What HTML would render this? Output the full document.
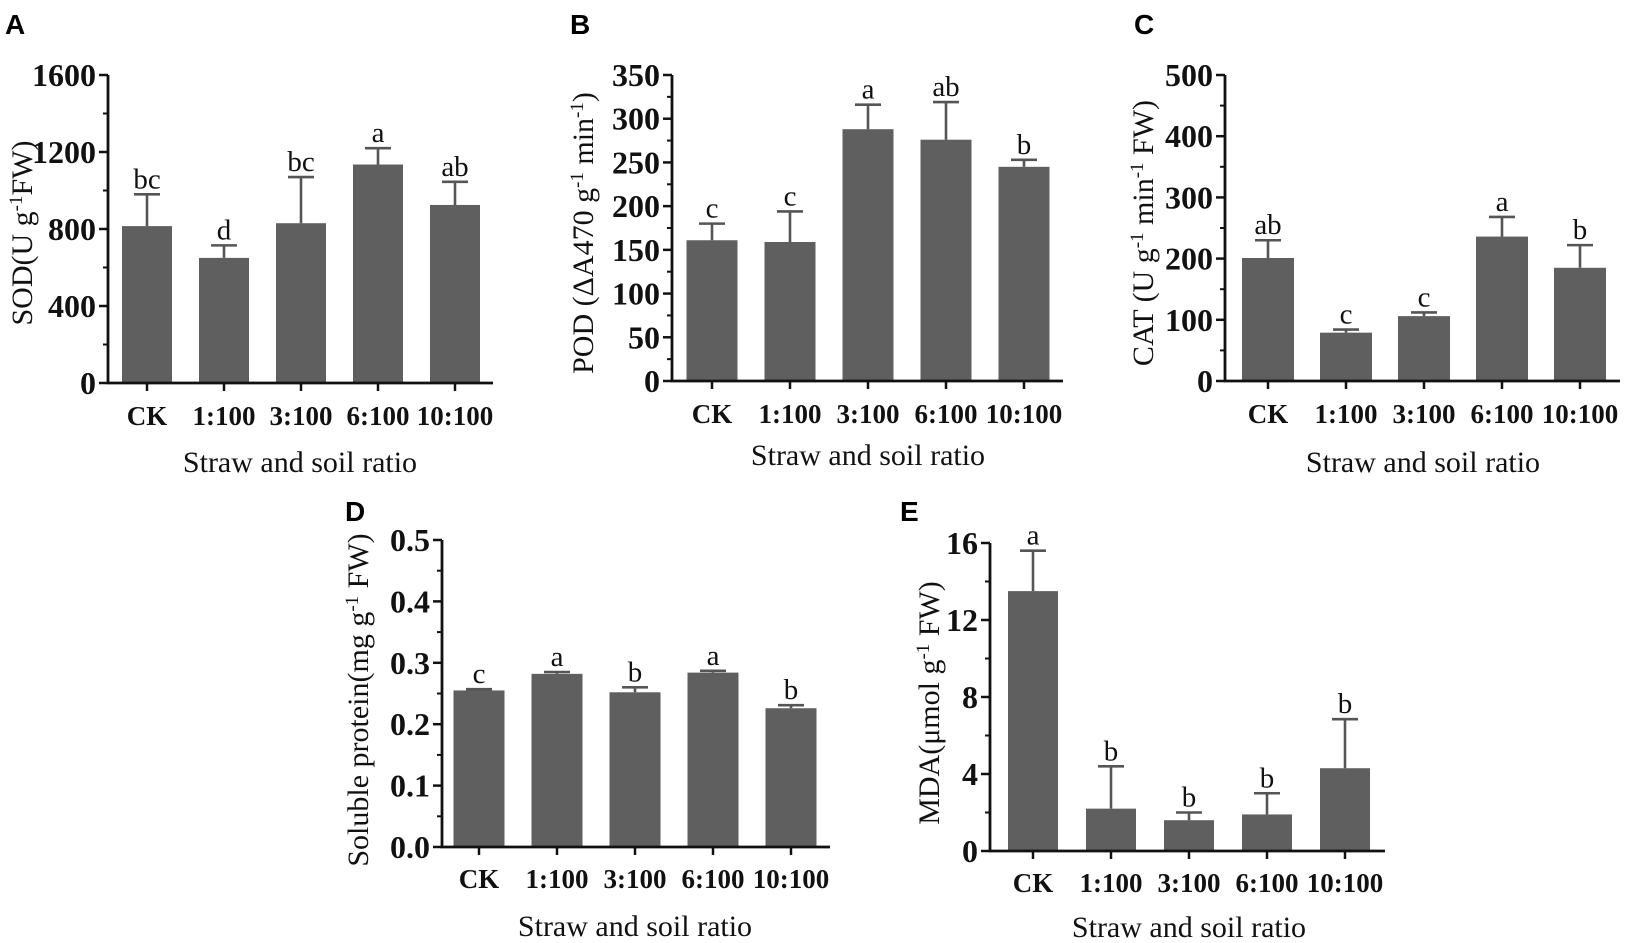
<!DOCTYPE html>
<html><head><meta charset="utf-8"><style>
html,body{margin:0;padding:0;background:#fff;}
svg{display:block;}
.tick{font-family:"Liberation Serif",serif;font-weight:bold;font-size:32px;fill:#111;}
.cat{font-family:"Liberation Serif",serif;font-weight:bold;font-size:27px;fill:#111;}
.xt{font-family:"Liberation Serif",serif;font-size:30px;fill:#111;}
.yt{font-family:"Liberation Serif",serif;font-size:30px;fill:#111;}
.sig{font-family:"Liberation Serif",serif;font-size:29px;fill:#111;}
.pl{font-family:"Liberation Sans",sans-serif;font-weight:bold;font-size:28px;fill:#000;}
</style></head><body>
<svg id="fig" width="1650" height="943" viewBox="0 0 1650 943">
<text class="pl" x="5" y="34">A</text>
<text class="pl" x="570" y="34">B</text>
<text class="pl" x="1134" y="34">C</text>
<text class="pl" x="345" y="521">D</text>
<text class="pl" x="900" y="521">E</text>
</svg>
<script>
const categories = ["CK","1:100","3:100","6:100","10:100"];
const sodMeans = [815,650,830,1135,925];
const sodUpper = [980,715,1070,1220,1045];
const sodLetters = ["bc","d","bc","a","ab"];
const sodTicks = [0,400,800,1200,1600];
const podMeans = [161,159,288,276,245];
const podUpper = [180,194,316,319,253];
const podLetters = ["c","c","a","ab","b"];
const podTicks = [0,50,100,150,200,250,300,350];
const catMeans = [201,79,106,236,185];
const catUpper = [230,84,112,268,222];
const catLetters = ["ab","c","c","a","b"];
const catTicks = [0,100,200,300,400,500];
const protMeans = [0.255,0.282,0.252,0.284,0.226];
const protUpper = [0.257,0.285,0.260,0.287,0.231];
const protLetters = ["c","a","b","a","b"];
const protTicks = ["0.0","0.1","0.2","0.3","0.4","0.5"];
const mdaMeans = [13.5,2.2,1.6,1.9,4.3];
const mdaUpper = [15.6,4.4,2.0,3.0,6.85];
const mdaLetters = ["a","b","b","b","b"];
const mdaTicks = [0,4,8,12,16];

const NS="http://www.w3.org/2000/svg";
const svg=document.getElementById('fig');
function mk(tag,attrs,parent){const e=document.createElementNS(NS,tag);for(const k in attrs)e.setAttribute(k,attrs[k]);(parent||svg).appendChild(e);return e;}

function panel(id,cfg,means,upper,letters,ticks,yTitleParts){
  const g=mk('g',{});
  
  
  const tv=ticks.map(Number);
  const ymax=tv[tv.length-1];
  const y=v=>cfg.y0-(v/ymax)*(cfg.y0-cfg.yTop);
  const x=i=>cfg.x0+cfg.first+i*cfg.step;
  means.forEach((m,i)=>{
    const b=mk('rect',{x:x(i)-cfg.bw/2,y:y(m),width:cfg.bw,height:cfg.y0-y(m),fill:'#5f5f5f'},g);
    
    
    const e=mk('path',{d:`M${x(i)},${y(m)}V${y(upper[i])}M${x(i)-13},${y(upper[i])}H${x(i)+13}`,stroke:'#555',"stroke-width":2.6,fill:'none'},g);
    
    
    const t=mk('text',{x:x(i),y:y(upper[i])-6,"text-anchor":"middle",class:"sig"},g);
    t.textContent=letters[i];
    
    
    mk('line',{x1:x(i),x2:x(i),y1:cfg.y0,y2:cfg.y0+8,stroke:'#111',"stroke-width":2.5},g);
    const c=mk('text',{x:x(i),y:cfg.catY,"text-anchor":"middle",class:"cat"},g);
    c.textContent=categories[i];
    
    
  });
  const ax=mk('path',{d:`M${cfg.x0},${cfg.yTop}V${cfg.y0}H${cfg.xEnd}`,stroke:'#111',"stroke-width":2.8,fill:'none'},g);
  
  
  ticks.forEach((t,k)=>{
    const yy=y(tv[k]);
    mk('line',{x1:cfg.x0-9,x2:cfg.x0,y1:yy,y2:yy,stroke:'#111',"stroke-width":2.5},g);
    if(k<ticks.length-1){const ym=y((tv[k]+tv[k+1])/2);mk('line',{x1:cfg.x0-5,x2:cfg.x0,y1:ym,y2:ym,stroke:'#111',"stroke-width":2},g);}
    const tl=mk('text',{x:cfg.x0-12,y:yy+11,"text-anchor":"end",class:"tick"},g);
    tl.textContent=t;
    
    
  });
  const xt=mk('text',{x:cfg.xtX,y:cfg.xtY,"text-anchor":"middle",class:"xt"},g);
  xt.textContent="Straw and soil ratio";
  
  
  const yt=mk('text',{x:0,y:0,"text-anchor":"middle",class:"yt",transform:`translate(${cfg.ytX},${cfg.ytY}) rotate(-90)`},g);
  
  
  yTitleParts.forEach(p=>{const s=mk('tspan',p.sup?{"font-size":"19","baseline-shift":"super"}:{},yt);s.textContent=p.t;});
}
panel('sod',{x0:108,yTop:75,y0:383,xEnd:493,first:39,step:77,bw:50,catY:425,xtX:300,xtY:472,ytX:32,ytY:233},
  sodMeans,sodUpper,sodLetters,sodTicks,[{t:"SOD(U g"},{t:"-1",sup:1},{t:"FW)"}]);
panel('pod',{x0:672,yTop:75,y0:381,xEnd:1063,first:40,step:78,bw:51,catY:423,xtX:868,xtY:465,ytX:593,ytY:233},
  podMeans,podUpper,podLetters,podTicks,[{t:"POD (ΔA470 g"},{t:"-1",sup:1},{t:" min"},{t:"-1",sup:1},{t:")"}]);
panel('cat',{x0:1225,yTop:75,y0:381,xEnd:1620,first:43,step:78,bw:52,catY:423,xtX:1423,xtY:472,ytX:1153,ytY:233},
  catMeans,catUpper,catLetters,catTicks,[{t:"CAT (U g"},{t:"-1",sup:1},{t:" min"},{t:"-1",sup:1},{t:" FW)"}]);
panel('protein',{x0:442,yTop:540,y0:847,xEnd:830,first:37,step:78,bw:51,catY:888,xtX:635,xtY:936,ytX:368,ytY:700},
  protMeans,protUpper,protLetters,protTicks,[{t:"Soluble protein(mg g"},{t:"-1",sup:1},{t:" FW)"}]);
panel('mda',{x0:990,yTop:543,y0:851,xEnd:1385,first:43,step:78,bw:50,catY:892,xtX:1189,xtY:937,ytX:939,ytY:703},
  mdaMeans,mdaUpper,mdaLetters,mdaTicks,[{t:"MDA(μmol g"},{t:"-1",sup:1},{t:" FW)"}]);
</script>
</body></html>
